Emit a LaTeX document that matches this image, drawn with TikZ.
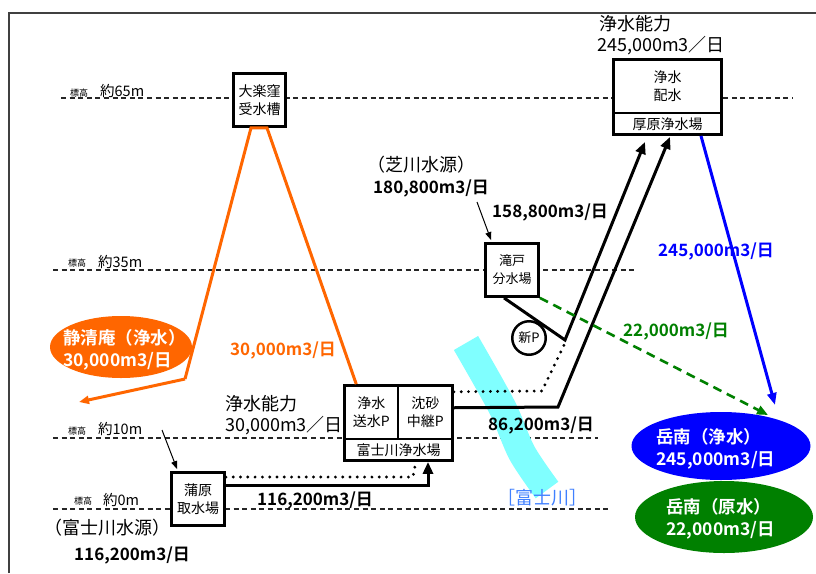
\documentclass[tikz,border=0pt]{standalone}
\usepackage{fontspec}
\setmainfont{Noto Sans CJK JP}[BoldFont={Noto Sans CJK JP Bold}]
\usetikzlibrary{arrows.meta,shapes.geometric}
\definecolor{jorange}{RGB}{255,102,0}
\definecolor{jblue}{RGB}{0,0,255}
\definecolor{jgreen}{RGB}{0,128,0}
\definecolor{jcyan}{RGB}{128,255,255}
\definecolor{jriver}{RGB}{64,128,255}
\definecolor{jframe}{RGB}{64,64,64}
\begin{document}
\begin{tikzpicture}[x=1pt,y=-1pt,
  lvl/.style={draw=black!85, line width=1.1pt, dash pattern=on 5pt off 3.6pt},
  boxn/.style={draw=black, line width=2.8pt, fill=white, inner sep=0pt, align=center, font=\fontsize{14}{18.5}\selectfont},
  lbl/.style={anchor=west, inner sep=0pt, font=\fontsize{18}{21}\selectfont},
  nlbl/.style={anchor=west, inner sep=0pt, font=\bfseries\fontsize{17}{21}\selectfont},
  hlbl/.style={anchor=west, inner sep=0pt, font=\fontsize{9}{10}\selectfont},
  elbl/.style={anchor=west, inner sep=0pt, font=\fontsize{14.5}{16}\selectfont},
  ellbg/.style={ellipse, inner sep=0pt},
  etext/.style={anchor=west, inner sep=0pt, text=white, align=left, font=\bfseries\fontsize{17.5}{22}\selectfont},
  thk/.style={line width=3pt, -{Triangle[length=12pt,width=10pt]}},
  thinarr/.style={line width=1pt, -{Triangle[length=8pt,width=6pt]}},
  dotl/.style={line width=3.2pt, dash pattern=on 0pt off 7.3pt, line cap=round},
  orangeL/.style={draw=jorange, line width=3pt},
]
\fill[white] (0,0) rectangle (816,573);
\useasboundingbox (0,0) rectangle (816,573);
\draw[jframe, line width=1.5pt] (9,573) -- (9,13) -- (816,13);

% elevation lines
\draw[lvl] (61,98) -- (793,98);
\draw[lvl] (53,270) -- (637,270);
\draw[lvl] (53,438) -- (598,438);
\draw[lvl] (53,509) -- (608,509);

\node[hlbl] (hy65) at (70,93) {標高};
\node[elbl] (e65) at (100,91) {約65m};
\node[hlbl] (hy35) at (68,263) {標高};
\node[elbl] (e35) at (98,262) {約35m};
\node[hlbl] (hy10) at (68,431) {標高};
\node[elbl] (e10) at (98,429) {約10m};
\node[hlbl] (hy0) at (74,501) {標高};
\node[elbl] (e0) at (103,500) {約0m};

% river
\draw[jcyan, line width=28pt] plot[smooth] coordinates {(466,343) (502,407) (522,453) (547,490)};

% boxes
\node[boxn, minimum width=52pt, minimum height=53pt] (ogkubo) at (259.5,100) {大楽窪\\受水槽};
\node[boxn, minimum width=108pt, minimum height=53.5pt] (atsuT) at (667.5,86.25) {浄水\\配水};
\node[boxn, minimum width=108pt, minimum height=21.5pt] (atsuB) at (667.5,123.75) {厚原浄水場};
\node[boxn, minimum width=53pt, minimum height=53pt, font=\fontsize{13}{18}\selectfont] (takido) at (512,270) {滝戸\\分水場};
\node[circle, draw, line width=2.5pt, fill=white, minimum size=33.5pt, inner sep=0pt, font=\fontsize{13}{15}\selectfont] (shinP) at (529,338) {新P};
\node[boxn, minimum width=53.5pt, minimum height=53.5pt] (josui) at (371.25,412.25) {浄水\\送水P};
\node[boxn, minimum width=54.5pt, minimum height=53.5pt] (chinsa) at (425.25,412.25) {沈砂\\中継P};
\node[boxn, minimum width=108pt, minimum height=21.5pt] (fujiB) at (398.5,449.75) {富士川浄水場};
\node[boxn, minimum width=53pt, minimum height=53pt] (kanbara) at (198,499) {蒲原\\取水場};

% ellipses
\node[ellbg, fill=jorange, minimum width=142pt, minimum height=62pt] (seishinE) at (121,347) {};
\node[etext] (seishinT) at (63,349.5) {静清庵（浄水）\\30,000m3/日};
\node[ellbg, fill=jblue, minimum width=179pt, minimum height=68pt] (gakuJ) at (721,446) {};
\node[etext] (gakuJT) at (656,448.5) {岳南（浄水）\\245,000m3/日};
\node[ellbg, fill=jgreen, minimum width=178pt, minimum height=72pt] (gakuG) at (724,517) {};
\node[etext] (gakuGT) at (666,518.5) {岳南（原水）\\22,000m3/日};

% orange connectors
\coordinate (oK) at (185,379);
\coordinate (oEnd) at (79,402);
\draw[orangeL] (oK) -- ([xshift=-8.5pt]ogkubo.south) -- ([xshift=7.5pt]ogkubo.south) -- ([xshift=-15pt]josui.north);
\draw[orangeL, -{Triangle[length=10pt,width=8pt]}] (oK) -- (oEnd);

% black connectors
\coordinate (k1) at (428,485);
\draw[thk] ([yshift=14pt]kanbara.east) -- (k1) -- (k1 |- fujiB.south);
\coordinate (d1) at (413,477);
\coordinate (d2) at (415,466);
\draw[dotl] ([yshift=22pt]kanbara.east) -- (d1) -- (d2);

\coordinate (c1) at (558,407);
\draw[thk] ([yshift=4.5pt]chinsa.east) -- (c1) -- ([xshift=2.5pt,yshift=-1pt]atsuB.south);
\coordinate (t1) at (565,340);
\draw[thk] ([xshift=-8pt]takido.south) -- (t1) -- ([xshift=-22.5pt,yshift=-6pt]atsuB.south);
\coordinate (c2) at (542,391);
\coordinate (c3) at (565,343);
\draw[dotl] ([yshift=20.5pt]chinsa.east) -- (c2) -- (c3);

\coordinate (b1) at (775,405);
\draw[jblue, line width=3pt, -{Triangle[length=12pt,width=9pt]}] ([xshift=33.5pt]atsuB.south) -- (b1);
\coordinate (g1) at (768,415);
\draw[jgreen, line width=2.6pt, dash pattern=on 9pt off 6pt, -{Triangle[length=11pt,width=9pt]}] (takido.south east) -- (g1);

\coordinate (a1) at (162,430);
\draw[thinarr] (a1) -- ([xshift=7pt,yshift=2pt]kanbara.north west);
\coordinate (a2) at (477,202);
\draw[thinarr] (a2) -- ([xshift=7pt,yshift=2pt]takido.north west);

% labels
\node[lbl] (jn1) at (599,24) {浄水能力};
\node[lbl] (jn1v) at (597,46) {245,000m3／日};
\node[lbl] (shiba) at (367,165) {（芝川水源）};
\node[nlbl] (shibav) at (373,188) {180,800m3/日};
\node[nlbl] (v158) at (492,212) {158,800m3/日};
\node[nlbl, text=jblue] (v245) at (658,251) {245,000m3/日};
\node[nlbl, text=jgreen] (v22) at (623,331) {22,000m3/日};
\node[nlbl] (v86) at (488,425) {86,200m3/日};
\node[lbl, text=jriver] (riverT) at (497,498) {［富士川］};
\node[nlbl, text=jorange] (v30) at (230,350) {30,000m3/日};
\node[lbl] (jn2) at (225,404) {浄水能力};
\node[lbl] (jn2v) at (225,426) {30,000m3／日};
\node[nlbl] (v116a) at (257,500) {116,200m3/日};
\node[lbl] (fujisrc) at (44,528) {（富士川水源）};
\node[nlbl] (v116b) at (74,555) {116,200m3/日};
\end{tikzpicture}
\end{document}
